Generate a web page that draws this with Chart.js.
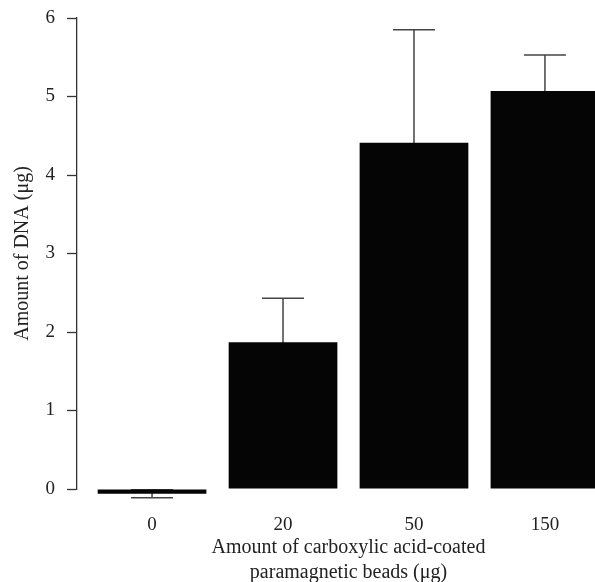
<!DOCTYPE html>
<html>
<head>
<meta charset="utf-8">
<script src="https://cdn.jsdelivr.net/npm/chart.js@4"></script>
<style>
  html, body { margin: 0; padding: 0; background: #fff; overflow: hidden; }
  /* the plot runs a little past the right edge of the page, as in the source figure */
  #wrap { width: 620px; height: 582px; position: relative; }
</style>
</head>
<body>
<div id="wrap"><canvas id="dnaChart"></canvas></div>
<script>
// bead amounts (μg) and DNA yield (μg), mean and error
const doses = ['0', '20', '50', '150'];
const dnaMean = [-0.06, 1.87, 4.41, 5.07];
const dnaErr = [0.05, 0.56, 1.44, 0.46];
const yTicks = [0, 1, 2, 3, 4, 5, 6];

const serif = '"Liberation Serif", "DejaVu Serif", serif';

// error bars: drawn before the bars so the part inside a bar is hidden
const errorBars = {
  id: 'errorBars',
  beforeDatasetsDraw(chart) {
    const { ctx, scales: { x, y } } = chart;
    const capHalf = 21;
    ctx.save();
    ctx.strokeStyle = '#444';
    ctx.lineWidth = 1.5;
    dnaMean.forEach((m, i) => {
      const px = x.getPixelForValue(i);
      const top = y.getPixelForValue(m + dnaErr[i]);
      const bot = y.getPixelForValue(m - dnaErr[i]);
      ctx.beginPath();
      ctx.moveTo(px, top);
      ctx.lineTo(px, bot);
      ctx.moveTo(px - capHalf, top);
      ctx.lineTo(px + capHalf, top);
      ctx.moveTo(px - capHalf, bot);
      ctx.lineTo(px + capHalf, bot);
      ctx.stroke();
    });
    ctx.restore();
  }
};

const ctx = document.getElementById('dnaChart').getContext('2d');
new Chart(ctx, {
  type: 'bar',
  data: {
    datasets: [{
      data: dnaMean.map((v, i) => ({ x: i, y: v })),
      backgroundColor: '#050505',
      borderWidth: 0,
      barPercentage: 0.83,
      categoryPercentage: 1,
      clip: false
    }]
  },
  plugins: [errorBars],
  options: {
    responsive: true,
    maintainAspectRatio: false,
    animation: false,
    devicePixelRatio: 1,
    layout: { padding: { top: 18, right: 0, bottom: 0, left: 0 } },
    plugins: {
      legend: { display: false },
      tooltip: { enabled: false }
    },
    scales: {
      x: {
        type: 'linear',
        offset: false,
        min: -0.573,
        max: 3.573,
        grid: { display: false },
        border: { display: false },
        afterBuildTicks: scale => { scale.ticks = doses.map((d, i) => ({ value: i })); },
        afterFit: scale => { scale.height = 93; },
        ticks: {
          padding: 17,
          color: '#222',
          font: { family: serif, size: 19 },
          callback: v => doses[v]
        },
        title: {
          display: true,
          text: ['Amount of carboxylic acid-coated', 'paramagnetic beads (μg)'],
          color: '#222',
          font: { family: serif, size: 20, lineHeight: 1.25 },
          padding: { top: 4, bottom: -3 }
        }
      },
      y: {
        min: 0,
        max: 6,
        afterBuildTicks: scale => { scale.ticks = yTicks.map(v => ({ value: v })); },
        afterFit: scale => {
          scale.width = 77;
          scale.paddingTop = 0;
          scale.paddingBottom = 0;
        },
        grid: {
          drawOnChartArea: false,
          drawTicks: true,
          tickLength: 10,
          tickWidth: 1.3,
          tickColor: '#333'
        },
        border: { display: true, color: '#333', width: 1.3 },
        ticks: {
          padding: 12,
          color: '#222',
          font: { family: serif, size: 19 }
        },
        title: {
          display: true,
          text: 'Amount of DNA (μg)',
          color: '#222',
          font: { family: serif, size: 20, lineHeight: 1.25 },
          padding: { top: 10, bottom: 0 }
        }
      }
    }
  }
});
</script>
</body>
</html>
